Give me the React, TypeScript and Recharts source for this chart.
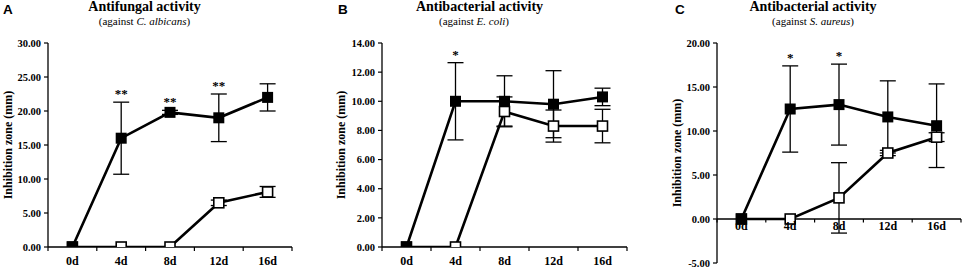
import { ErrorBar, Line, LineChart, ReferenceDot, ReferenceLine, XAxis, YAxis } from "recharts";

const serif = "Liberation Serif";
const sans = "Liberation Sans";

const days = ["0d", "4d", "8d", "12d", "16d"];

// A: antifungal (C. albicans)
const fungalTreated = [0, 16.0, 19.8, 19.0, 22.0];
const fungalTreatedErr = [0, 5.3, 0.3, 3.5, 2.0];
const fungalControl = [0, 0, 0, 6.5, 8.1];
const fungalControlErr = [0, 0, 0, 0.4, 0.8];
const fungalMarks = ["", "**", "**", "**", ""];
const fungalTicks = [0, 5, 10, 15, 20, 25, 30];

// B: antibacterial (E. coli)
const coliTreated = [0, 10.0, 10.0, 9.8, 10.3];
const coliTreatedErr = [0, 2.65, 1.75, 2.3, 0.6];
const coliControl = [0, 0, 9.3, 8.3, 8.3];
const coliControlErr = [0, 0, 1.0, 1.1, 1.15];
const coliMarks = ["", "*", "", "", ""];
const coliTicks = [0, 2, 4, 6, 8, 10, 12, 14];

// C: antibacterial (S. aureus)
const aureusTreated = [0, 12.5, 13.0, 11.6, 10.6];
const aureusTreatedErr = [0, 4.9, 4.6, 4.1, 4.75];
const aureusControl = [0, 0, 2.4, 7.5, 9.3];
const aureusControlErr = [0, 0, 4.0, 0.3, 0.5];
const aureusMarks = ["", "*", "*", "", ""];
const aureusTicks = [-5, 0, 5, 10, 15, 20];

// category centres plus the boundaries between them (where tick marks sit)
const bounds = [-0.5, ...days.map((_, i) => i + 0.5)];
const xTicks = [...bounds, ...days.map((_, i) => i)].sort((a, b) => a - b);

const filledSquare = (p: any) => (
  <rect key={`f${p.index}`} x={p.cx - 5.5} y={p.cy - 5.5} width={11} height={11} fill="#000" />
);
const openSquare = (p: any) => (
  <rect
    key={`o${p.index}`}
    x={p.cx - 5}
    y={p.cy - 5}
    width={10}
    height={10}
    fill="#fff"
    stroke="#000"
    strokeWidth={1.6}
  />
);

const DayTick = (p: any) => {
  const v = p.payload.value;
  if (Number.isInteger(v)) {
    return (
      <text x={p.x} y={p.y + 18} textAnchor="middle" fill="#000" fontSize={12} fontWeight="bold" fontFamily={serif}>
        {days[v]}
      </text>
    );
  }
  return <line x1={p.x} x2={p.x} y1={p.y} y2={p.y + 4} stroke="#000" strokeWidth={1.2} />;
};

type PanelProps = {
  left: number;
  width: number;
  yWidth: number;
  right: number;
  treated: number[];
  treatedErr: number[];
  control: number[];
  controlErr: number[];
  marks: string[];
  yTicks: number[];
  zeroAxis?: boolean;
};

function Panel(p: PanelProps) {
  const rows = days.map((day, i) => ({
    x: i,
    day,
    treated: p.treated[i],
    treatedErr: p.treatedErr[i],
    control: p.control[i],
    controlErr: p.controlErr[i],
  }));
  const yDomain = [p.yTicks[0], p.yTicks[p.yTicks.length - 1]];

  return (
    <div style={{ position: "absolute", left: p.left, top: 0 }}>
      <LineChart
        width={p.width}
        height={268}
        data={rows}
        margin={{ top: 43, right: p.right, left: 0, bottom: p.zeroAxis ? 5 : 0 }}
        style={{ fontFamily: serif }}
      >
        {p.zeroAxis ? (
          <XAxis type="number" dataKey="x" domain={[-0.5, 4.5]} hide allowDataOverflow />
        ) : (
          <XAxis
            type="number"
            dataKey="x"
            domain={[-0.5, 4.5]}
            ticks={xTicks}
            interval={0}
            tick={DayTick}
            tickLine={false}
            tickSize={0}
            tickMargin={0}
            height={21}
            axisLine={{ stroke: "#000", strokeWidth: 1.3 }}
            allowDataOverflow
          />
        )}
        <YAxis
          type="number"
          domain={yDomain}
          ticks={p.yTicks}
          interval={0}
          width={p.yWidth}
          tickFormatter={(v) => Number(v).toFixed(2)}
          tickSize={4}
          tickMargin={3}
          axisLine={{ stroke: "#000", strokeWidth: 1.3 }}
          tickLine={{ stroke: "#000", strokeWidth: 1.2 }}
          tick={{ fill: "#000", fontSize: 10.5, fontWeight: "bold", fontFamily: serif }}
          allowDataOverflow
        />
        {p.zeroAxis && <ReferenceLine y={0} stroke="#000" strokeWidth={1.3} />}
        {p.zeroAxis &&
          bounds.map((b) => (
            <ReferenceLine
              key={`b${b}`}
              segment={[
                { x: b, y: 0 },
                { x: b, y: -0.4 },
              ]}
              stroke="#000"
              strokeWidth={1.2}
            />
          ))}
        {p.zeroAxis &&
          days.map((d, i) => (
            <ReferenceDot
              key={`d${d}`}
              x={i}
              y={0}
              r={1}
              fill="none"
              stroke="none"
              label={{
                value: d,
                position: "bottom",
                offset: 1,
                fill: "#000",
                fontSize: 12,
                fontWeight: "bold",
                fontFamily: serif,
              }}
            />
          ))}
        {p.marks.map((m, i) =>
          m ? (
            <ReferenceDot
              key={`m${i}`}
              x={i}
              y={p.treated[i] + p.treatedErr[i]}
              r={1}
              fill="none"
              stroke="none"
              label={{
                value: m,
                position: "top",
                offset: 3,
                fill: "#000",
                fontSize: 13,
                fontWeight: "bold",
                fontFamily: serif,
              }}
            />
          ) : null
        )}
        <Line
          type="linear"
          dataKey="control"
          stroke="#000"
          strokeWidth={2.6}
          dot={openSquare}
          activeDot={false}
          isAnimationActive={false}
        >
          <ErrorBar dataKey="controlErr" direction="y" width={8} stroke="#000" strokeWidth={1.3} isAnimationActive={false} />
        </Line>
        <Line
          type="linear"
          dataKey="treated"
          stroke="#000"
          strokeWidth={2.6}
          dot={filledSquare}
          activeDot={false}
          isAnimationActive={false}
        >
          <ErrorBar dataKey="treatedErr" direction="y" width={8} stroke="#000" strokeWidth={1.3} isAnimationActive={false} />
        </Line>
      </LineChart>
    </div>
  );
}

export default function App() {
  return (
    <div
      style={{ position: "absolute", left: 0, top: 0, width: 964, height: 268, background: "#fff", opacity: 0.999 }}
    >
      <Panel
        left={0}
        width={320}
        yWidth={48}
        right={28}
        treated={fungalTreated}
        treatedErr={fungalTreatedErr}
        control={fungalControl}
        controlErr={fungalControlErr}
        marks={fungalMarks}
        yTicks={fungalTicks}
      />
      <Panel
        left={320}
        width={320}
        yWidth={62}
        right={13}
        treated={coliTreated}
        treatedErr={coliTreatedErr}
        control={coliControl}
        controlErr={coliControlErr}
        marks={coliMarks}
        yTicks={coliTicks}
      />
      <Panel
        left={640}
        width={324}
        yWidth={77}
        right={3}
        treated={aureusTreated}
        treatedErr={aureusTreatedErr}
        control={aureusControl}
        controlErr={aureusControlErr}
        marks={aureusMarks}
        yTicks={aureusTicks}
        zeroAxis
      />
      <svg width={964} height={268} style={{ position: "absolute", left: 0, top: 0, pointerEvents: "none" }}>
        <g fill="#000" style={{ fontFamily: sans }} fontWeight="bold" fontSize={13.5}>
          <text x={3} y={13.5}>A</text>
          <text x={338} y={13.5}>B</text>
          <text x={675} y={13.5}>C</text>
        </g>
        <g fill="#000" style={{ fontFamily: serif }} textAnchor="middle">
          <text x={144.5} y={11} fontSize={14} fontWeight="bold">Antifungal activity</text>
          <text x={144.5} y={25} fontSize={11}>
            (against <tspan fontStyle="italic">C. albicans</tspan>)
          </text>
          <text x={479.5} y={11} fontSize={14} fontWeight="bold">Antibacterial activity</text>
          <text x={474} y={25} fontSize={11}>
            (against <tspan fontStyle="italic">E. coli</tspan>)
          </text>
          <text x={813} y={11} fontSize={14} fontWeight="bold">Antibacterial activity</text>
          <text x={813} y={25} fontSize={11}>
            (against <tspan fontStyle="italic">S. aureus</tspan>)
          </text>
        </g>
        <g fill="#000" style={{ fontFamily: serif }} fontWeight="bold" fontSize={12} textAnchor="middle" dominantBaseline="central">
          <text transform="translate(8,145) rotate(-90)">Inhibition zone (mm)</text>
          <text transform="translate(341,145) rotate(-90)">Inhibition zone (mm)</text>
          <text transform="translate(677,153) rotate(-90)">Inhibition zone (mm)</text>
        </g>
      </svg>
    </div>
  );
}
